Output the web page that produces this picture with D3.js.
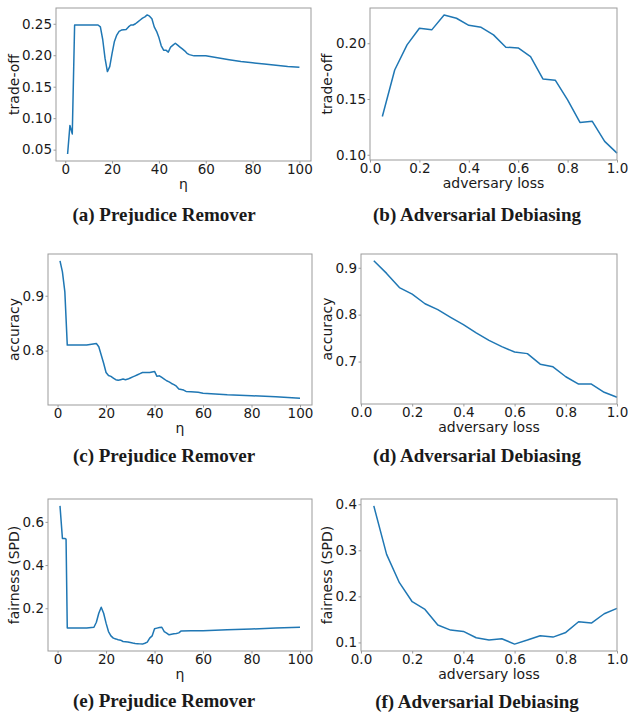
<!DOCTYPE html>
<html>
<head>
<meta charset="utf-8">
<script src="https://cdn.jsdelivr.net/npm/d3@7"></script>
<style>
  body { margin: 0; background: #fff; }
  svg text { fill: #1a1a1a; }
  .tick text { font-family: "DejaVu Sans", sans-serif; font-size: 13.5px; }
  .axlabel { font-family: "DejaVu Sans", sans-serif; font-size: 14px; }
  .caption { font-family: "Liberation Serif", "Times New Roman", serif; font-size: 19px; font-weight: bold; }
</style>
</head>
<body>
<svg id="fig" width="628" height="715"></svg>
<script>
// Prejudice Remover: eta sweep
const etaVals = [1, 2, 3, 4, 8, 14, 15, 16, 17, 18, 19, 20, 21, 22, 23, 24, 26, 27, 28, 29, 30, 31, 32, 33, 34, 35, 36, 37, 38, 39, 40, 41, 42, 43, 44, 45, 46, 47, 48, 49, 50, 51, 52, 53, 55, 60, 65, 70, 75, 80, 85, 90, 95, 100];
const prTradeoff = [0.043, 0.0885, 0.075, 0.248, 0.248, 0.248, 0.245, 0.225, 0.195, 0.174, 0.182, 0.203, 0.222, 0.232, 0.238, 0.240, 0.241, 0.245, 0.248, 0.248, 0.250, 0.253, 0.256, 0.259, 0.261, 0.264, 0.262, 0.258, 0.245, 0.238, 0.228, 0.215, 0.208, 0.208, 0.205, 0.213, 0.216, 0.219, 0.216, 0.213, 0.210, 0.207, 0.203, 0.201, 0.199, 0.199, 0.196, 0.193, 0.190, 0.188, 0.186, 0.184, 0.182, 0.181];

const etaAcc = [1, 2, 3, 4, 8, 12, 16, 17, 18, 19, 20, 21, 22, 23, 24, 25, 26, 27, 28, 29, 30, 31, 32, 33, 34, 35, 38, 39, 40, 41, 42, 43, 44, 45, 46, 47, 48, 49, 50, 52, 53, 55, 58, 60, 65, 70, 80, 90, 100];
const prAccuracy = [0.9636, 0.9436, 0.907, 0.810, 0.810, 0.810, 0.813, 0.807, 0.792, 0.777, 0.760, 0.7545, 0.753, 0.750, 0.747, 0.746, 0.747, 0.748, 0.747, 0.748, 0.750, 0.752, 0.754, 0.756, 0.758, 0.760, 0.760, 0.761, 0.762, 0.753, 0.754, 0.751, 0.748, 0.745, 0.743, 0.740, 0.738, 0.735, 0.730, 0.728, 0.7255, 0.725, 0.724, 0.7224, 0.721, 0.7194, 0.7176, 0.716, 0.7133];

const etaFair = [1, 2, 3, 3.5, 4, 8, 12, 15, 16, 17, 18, 19, 20, 21, 22, 23, 24, 25, 26, 27, 28, 29, 30, 31, 32, 33, 34, 35, 36, 37, 38, 39, 40, 41, 42, 43, 44, 45, 46, 47, 48, 49, 50, 51, 55, 60, 70, 80, 90, 100];
const prFairness = [0.674, 0.523, 0.523, 0.52, 0.108, 0.108, 0.108, 0.112, 0.135, 0.177, 0.2046, 0.177, 0.131, 0.092, 0.072, 0.0615, 0.058, 0.054, 0.052, 0.046, 0.045, 0.044, 0.0415, 0.039, 0.037, 0.036, 0.035, 0.034, 0.038, 0.043, 0.0615, 0.072, 0.105, 0.108, 0.111, 0.112, 0.092, 0.085, 0.077, 0.080, 0.082, 0.083, 0.086, 0.095, 0.096, 0.096, 0.100, 0.104, 0.108, 0.112];

// Adversarial Debiasing: adversary loss sweep
const advLoss = [0.05, 0.10, 0.15, 0.20, 0.25, 0.30, 0.35, 0.40, 0.45, 0.50, 0.55, 0.60, 0.65, 0.70, 0.75, 0.80, 0.85, 0.90, 0.95, 1.00];
const adTradeoff = [0.1343, 0.176, 0.1985, 0.2134, 0.212, 0.2254, 0.2224, 0.2161, 0.2143, 0.2075, 0.1964, 0.1958, 0.188, 0.168, 0.1669, 0.1493, 0.129, 0.130, 0.112, 0.1015];
const adAccuracy = [0.9148, 0.888, 0.8577, 0.8437, 0.8232, 0.8106, 0.7944, 0.7789, 0.7613, 0.745, 0.7317, 0.7204, 0.7169, 0.6944, 0.6887, 0.6676, 0.652, 0.652, 0.6345, 0.624];
const adFairness = [0.3964, 0.2913, 0.2297, 0.1884, 0.1717, 0.1377, 0.1268, 0.1239, 0.1101, 0.1051, 0.108, 0.0964, 0.1051, 0.1145, 0.1116, 0.1217, 0.1449, 0.142, 0.1623, 0.1739];

// tick labels
const etaTicks = [0, 20, 40, 60, 80, 100];
const lossTicks = [0, 0.2, 0.4, 0.6, 0.8, 1.0];

const svg = d3.select("#fig");
const lineColor = "#1f77b4";
const spineColor = "#9b9b9b";

// pad a domain by 5% each side like matplotlib does
function padded(vals) {
    const [lo, hi] = d3.extent(vals);
    const m = (hi - lo) * 0.05;
    return [lo - m, hi + m];
}

function drawPanel(p) {
    const g = svg.append("g");
    const x = d3.scaleLinear()
        .domain(p.xDomain || padded(p.xs))
        .range([p.left, p.right]);
    const y = d3.scaleLinear()
        .domain(padded(p.ys))
        .range([p.bottom, p.top]);

    // axes
    const xAxis = d3.axisBottom(x).tickValues(p.xTicks).tickFormat(p.xFmt)
        .tickSizeInner(2.5).tickSizeOuter(0).tickPadding(1);
    const yAxis = d3.axisLeft(y).tickValues(p.yTicks).tickFormat(p.yFmt)
        .tickSizeInner(2.5).tickSizeOuter(0).tickPadding(1.5);

    const gx = g.append("g").attr("transform", `translate(0,${p.bottom})`).call(xAxis);
    const gy = g.append("g").attr("transform", `translate(${p.left},0)`).call(yAxis);
    [gx, gy].forEach(a => {
        a.select(".domain").remove();
        a.selectAll(".tick line").attr("stroke", spineColor);
        a.selectAll(".tick text").attr("fill", "#1a1a1a");
    });

    // the line
    const line = d3.line()
        .x((d, i) => x(p.xs[i]))
        .y(d => y(d));
    g.append("path")
        .datum(p.ys)
        .attr("fill", "none")
        .attr("stroke", lineColor)
        .attr("stroke-width", 1.5)
        .attr("stroke-linejoin", "round")
        .attr("d", line);

    // frame
    g.append("rect")
        .attr("x", p.left).attr("y", p.top)
        .attr("width", p.right - p.left).attr("height", p.bottom - p.top)
        .attr("fill", "none").attr("stroke", spineColor).attr("stroke-width", 1);

    // labels
    g.append("text").attr("class", "axlabel")
        .attr("x", (p.left + p.right) / 2).attr("y", p.bottom + 28)
        .attr("text-anchor", "middle").text(p.xLabel);
    g.append("text").attr("class", "axlabel")
        .attr("transform", `translate(${p.yLabelX},${(p.top + p.bottom) / 2}) rotate(-90)`)
        .attr("text-anchor", "middle").text(p.yLabel);

    g.append("text").attr("class", "caption")
        .attr("x", p.capX).attr("y", p.capY)
        .attr("text-anchor", "middle").text(p.caption);
}

const f2 = d3.format(".2f"), f1 = d3.format(".1f"), f0 = d3.format("d");

drawPanel({ xs: etaVals, ys: prTradeoff, left: 56, right: 311, top: 8, bottom: 161,
    xTicks: etaTicks, xFmt: f0, yTicks: [0.05, 0.10, 0.15, 0.20, 0.25], yFmt: f2,
    xLabel: "η", yLabel: "trade-off", yLabelX: 18.5, capX: 164, capY: 221, caption: "(a) Prejudice Remover" });

drawPanel({ xs: advLoss, ys: adTradeoff, xDomain: [0, 1], left: 370, right: 617, top: 8, bottom: 160,
    xTicks: lossTicks, xFmt: f1, yTicks: [0.10, 0.15, 0.20], yFmt: f2,
    xLabel: "adversary loss", yLabel: "trade-off", yLabelX: 332, capX: 477, capY: 221, caption: "(b) Adversarial Debiasing" });

drawPanel({ xs: etaAcc, ys: prAccuracy, left: 48, right: 312, top: 254, bottom: 405,
    xTicks: etaTicks, xFmt: f0, yTicks: [0.8, 0.9], yFmt: f1,
    xLabel: "η", yLabel: "accuracy", yLabelX: 18.5, capX: 164, capY: 462, caption: "(c) Prejudice Remover" });

drawPanel({ xs: advLoss, ys: adAccuracy, xDomain: [0, 1], left: 361, right: 617, top: 254, bottom: 404,
    xTicks: lossTicks, xFmt: f1, yTicks: [0.7, 0.8, 0.9], yFmt: f1,
    xLabel: "adversary loss", yLabel: "accuracy", yLabelX: 332, capX: 477, capY: 462, caption: "(d) Adversarial Debiasing" });

drawPanel({ xs: etaFair, ys: prFairness, left: 48, right: 312, top: 499, bottom: 651,
    xTicks: etaTicks, xFmt: f0, yTicks: [0.2, 0.4, 0.6], yFmt: f1,
    xLabel: "η", yLabel: "fairness (SPD)", yLabelX: 18.5, capX: 164, capY: 707, caption: "(e) Prejudice Remover" });

drawPanel({ xs: advLoss, ys: adFairness, xDomain: [0, 1], left: 361, right: 617, top: 499, bottom: 651,
    xTicks: lossTicks, xFmt: f1, yTicks: [0.1, 0.2, 0.3, 0.4], yFmt: f1,
    xLabel: "adversary loss", yLabel: "fairness (SPD)", yLabelX: 332, capX: 477, capY: 708, caption: "(f) Adversarial Debiasing" });
</script>
</body>
</html>
